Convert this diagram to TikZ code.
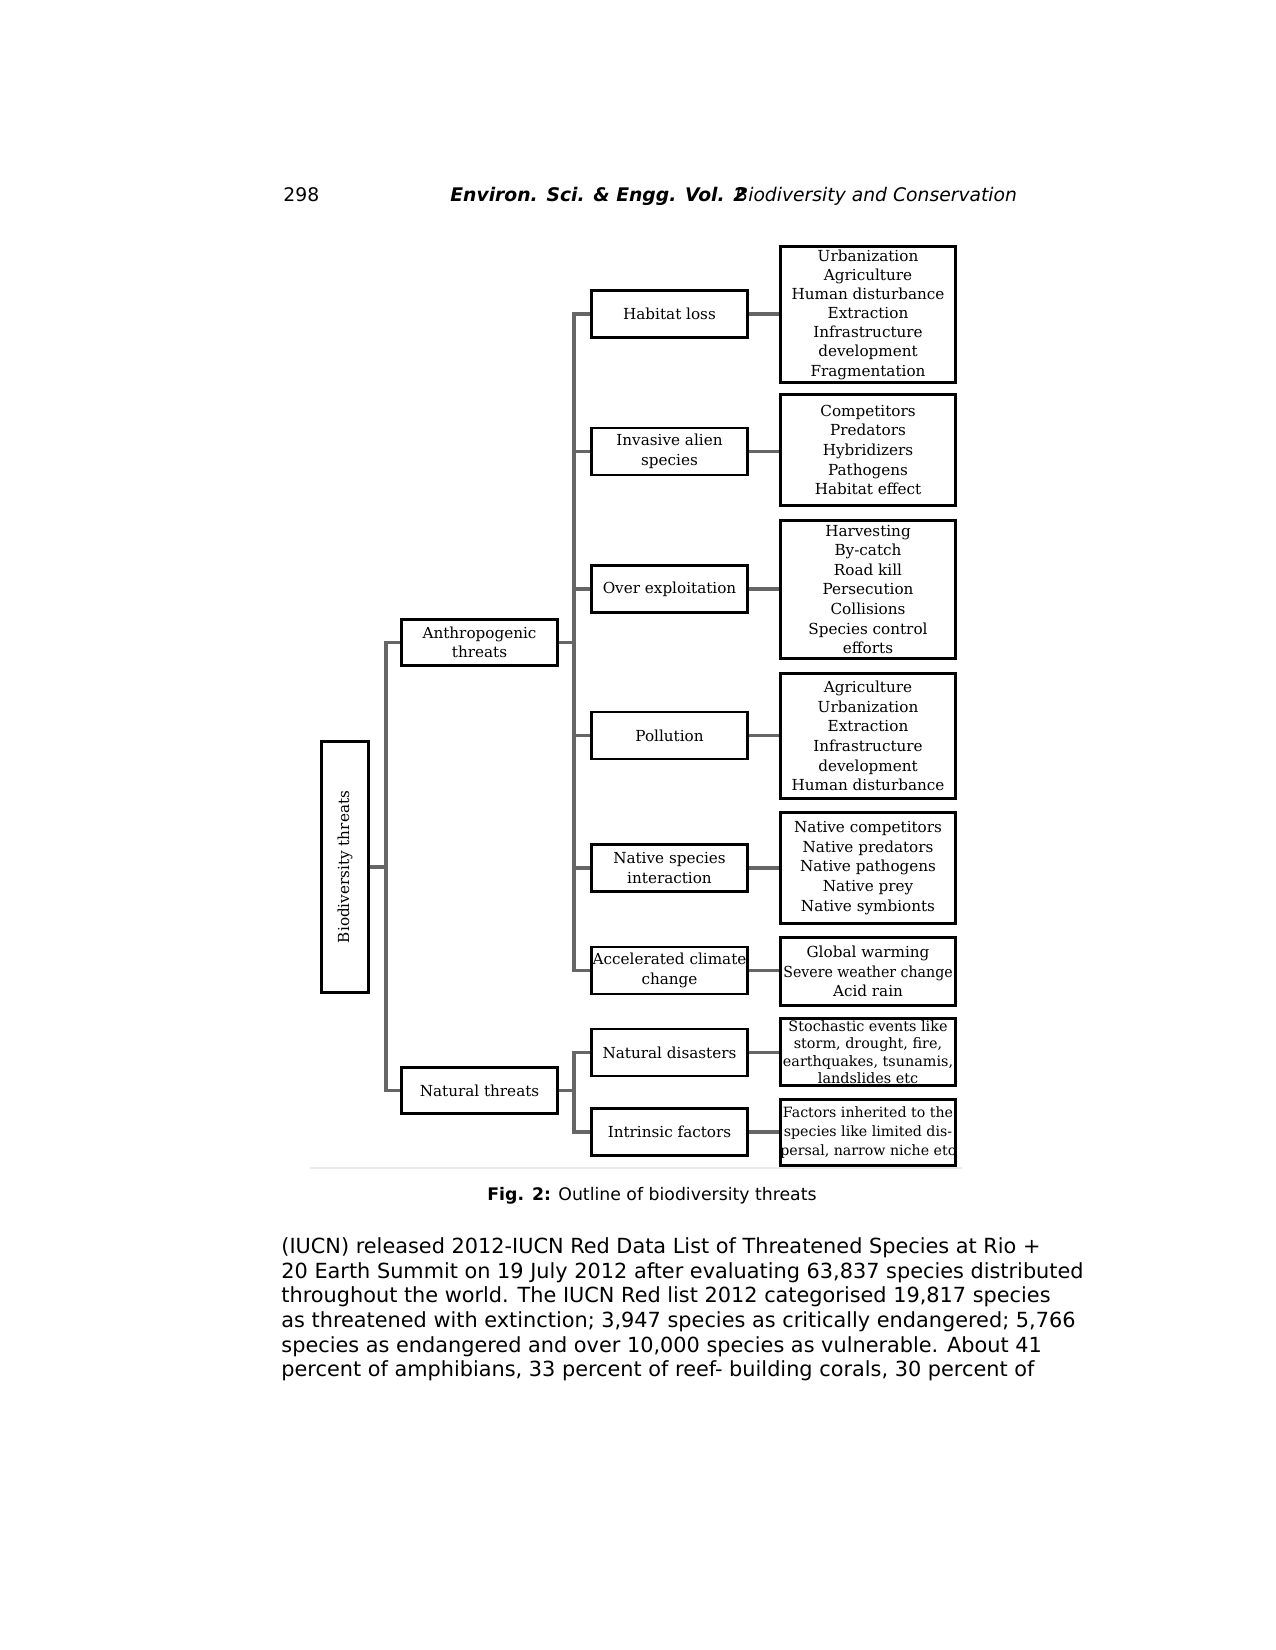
\documentclass[tikz,border=0pt]{standalone}
\usepackage{fontspec}
\usepackage{graphicx}
\setmainfont{DejaVu Serif}
\newfontfamily\pagefont{DejaVu Sans}
\newcommand\diagfnt{\fontsize{7.3}{9.4}\selectfont}
\newcommand\habfnt{\fontsize{7.3}{9.2}\selectfont}
\newcommand\smallfnt{\fontsize{6.9}{8.3}\selectfont}
\newcommand\factfnt{\fontsize{6.8}{9.1}\selectfont}
\begin{document}
\begin{tikzpicture}[x=0.48pt,y=-0.48pt,
  sz/.style 2 args={minimum width={(#1-3)*0.48pt},minimum height={(#2-3)*0.48pt}},
  bx/.style={draw=black,line width=1.4pt,inner sep=0pt,align=center,font=\diagfnt},
  conn/.style={draw=black!60,line width=1.5pt},
  pg/.style={inner sep=0pt,anchor=base west,font=\pagefont\fontsize{10}{12}\selectfont}]
\useasboundingbox[fill=white] (0,0) rectangle (1275,1650);

% page header
\node[pg,font=\pagefont\fontsize{9}{11}\selectfont] (pgno) at (283,202) {298};
\node[pg,font=\pagefont\fontsize{9}{11}\selectfont\bfseries\itshape] (jnl) at (450,202) {Environ. Sci. \& Engg. Vol. 2};
\node[pg,font=\pagefont\fontsize{9}{11}\selectfont\itshape] (ttl) at (735,202) {Biodiversity and Conservation};

% root and first level
\node[bx,sz={50}{254}] (root) at (345,867) {\rotatebox{90}{Biodiversity threats}};
\node[bx,sz={159}{49}] (anth) at (479.5,642.5) {Anthropogenic\\threats};
\node[bx,sz={159}{49}] (nat) at (479.5,1090.5) {Natural threats};

% second level
\node[bx,sz={159}{50}] (hab)  at (669.5,314)    {Habitat loss};
\node[bx,sz={159}{50}] (inv)  at (669.5,451.5)  {Invasive alien\\species};
\node[bx,sz={159}{50}] (over) at (669.5,589)    {Over exploitation};
\node[bx,sz={159}{50}] (poll) at (669.5,735.5)  {Pollution};
\node[bx,sz={159}{50}] (nsi)  at (669.5,868)    {Native species\\interaction};
\node[bx,sz={159}{50}] (acc)  at (669.5,970.5)  {Accelerated climate\\change};
\node[bx,sz={159}{50}] (ndis) at (669.5,1052.5) {Natural disasters};
\node[bx,sz={159}{50}] (intr) at (669.5,1132)   {Intrinsic factors};

% details
\node[bx,sz={178}{139},font=\habfnt] (hab-d)  at (868,314.5) {Urbanization\\Agriculture\\Human disturbance\\Extraction\\Infrastructure\\development\\Fragmentation};
\node[bx,sz={178}{114}] (inv-d)  at (868,450) {Competitors\\Predators\\Hybridizers\\Pathogens\\Habitat effect};
\node[bx,sz={178}{141}] (over-d) at (868,589.5) {Harvesting\\By-catch\\Road kill\\Persecution\\Collisions\\Species control\\efforts};
\node[bx,sz={178}{128}] (poll-d) at (868,736) {Agriculture\\Urbanization\\Extraction\\Infrastructure\\development\\Human disturbance};
\node[bx,sz={178}{114}] (nsi-d)  at (868,868) {Native competitors\\Native predators\\Native pathogens\\Native prey\\Native symbionts};
\node[bx,sz={178}{71}]  (acc-d)  at (868,971.5) {Global warming\\\scalebox{0.93}[1]{Severe weather change}\\Acid rain};
\node[bx,sz={178}{70},font=\smallfnt] (ndis-d) at (868,1052) {Stochastic events like\\storm, drought, fire,\\earthquakes, tsunamis,\\landslides etc};
\node[bx,sz={178}{69},font=\factfnt] (intr-d) at (868,1132.5) {Factors inherited to the\\species like limited dis-\\persal, narrow niche etc};

% buses
\coordinate (busR) at (386,867);
\coordinate (busA) at (574,642.5);
\coordinate (busN) at (574,1090.5);

% connectors
\draw[conn] (root.east) -- (busR) |- (anth.west);
\draw[conn] (busR) |- (nat.west);
\foreach \n in {hab,inv,over,poll,nsi,acc}
  \draw[conn] (anth.east) -- (busA) |- (\n.west);
\foreach \n in {ndis,intr}
  \draw[conn] (nat.east) -- (busN) |- (\n.west);
\foreach \n in {hab,inv,over,poll,nsi,acc,ndis,intr}
  \draw[conn] (\n.east) -- (\n.east -| \n-d.west);

% faint lower edge of the figure
\draw[black!8,line width=0.8pt] (310,1168) -- (962,1168);

% caption
\node[inner sep=0pt,anchor=base,font=\pagefont\fontsize{8.3}{10}\selectfont] (cap) at (652,1200) {\textbf{Fig. 2:} Outline of biodiversity threats};

% body text
\node[pg] (b1) at (281,1253) {(IUCN) released 2012-IUCN Red Data List of Threatened Species at Rio +};
\node[pg] (b2) at (281,1278) {20 Earth Summit on 19 July 2012 after evaluating 63,837 species distributed};
\node[pg] (b3) at (281,1302) {throughout the world. The IUCN Red list 2012 categorised 19,817 species};
\node[pg] (b4) at (281,1327) {as threatened with extinction; 3,947 species as critically endangered; 5,766};
\node[pg] (b5) at (281,1352) {species as endangered and over 10,000 species as vulnerable. About 41};
\node[pg] (b6) at (281,1376) {percent of amphibians, 33 percent of reef- building corals, 30 percent of};
\end{tikzpicture}
\end{document}
